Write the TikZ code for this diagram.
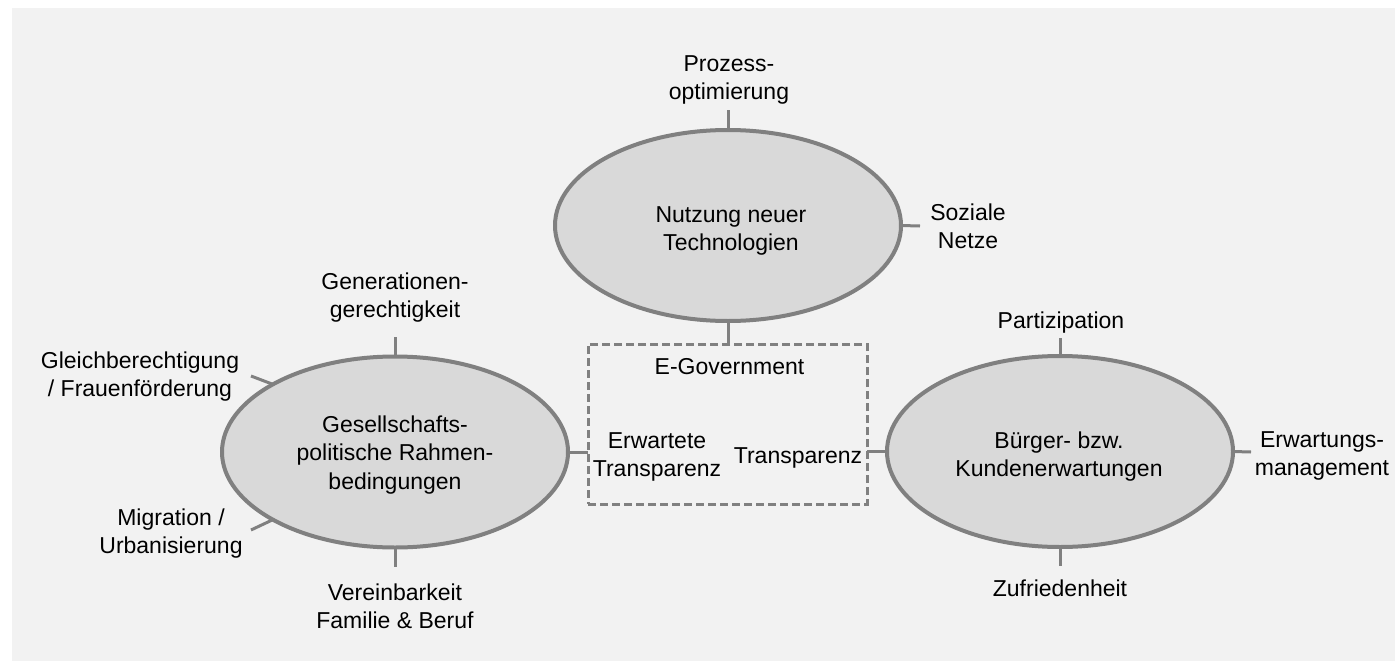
\documentclass[tikz,border=0pt]{standalone}
\usepackage{fontspec}
\setmainfont{Liberation Sans}
\usetikzlibrary{shapes.geometric}
\definecolor{bggray}{HTML}{F2F2F2}
\definecolor{fillgray}{HTML}{D9D9D9}
\definecolor{linegray}{HTML}{808080}
\begin{document}
\begin{tikzpicture}[x=1pt,y=-1pt,
  bubble/.style={ellipse, draw=linegray, fill=fillgray, line width=4pt, minimum width=346pt, minimum height=191pt, inner sep=0pt, outer sep=0pt},
  lbl/.style={font=\fontsize{23}{28.5}\selectfont, align=center, anchor=base, inner sep=0pt, text=black},
  tick/.style={draw=linegray, line width=3pt},
  frame/.style={rectangle, draw=linegray, dash pattern=on 8pt off 4pt, line width=3pt, minimum width=279pt, minimum height=160pt, inner sep=0pt, outer sep=0pt}]
\useasboundingbox (0,0) rectangle (1395,661);
\fill[bggray] (12,8) rectangle (1395,661);

% main bubbles
\node[bubble] (tech) at (728,225.5) {};
\node[bubble] (gov) at (395,452) {};
\node[bubble] (cust) at (1060,451.5) {};
\node[frame] (box) at (727.5,424) {};

% texts inside (anchor base = baseline of last line)
\node[lbl] (techtxt) at (731,250.5) {Nutzung neuer\\Technologien};
\node[lbl] (govtxt) at (395,489) {Gesellschafts-\\politische Rahmen-\\bedingungen};
\node[lbl] (custtxt) at (1059,476.5) {Bürger- bzw.\\Kundenerwartungen};
\node[lbl] (egov) at (729.5,374) {E-Government};
\node[lbl] (erw) at (657,476.5) {Erwartete\\Transparenz};
\node[lbl] (transp) at (798,463) {Transparenz};

% outer labels
\node[lbl] (prozess) at (729,99.5) {Prozess-\\optimierung};
\node[lbl] (sozial) at (968,248.5) {Soziale\\Netze};
\node[lbl] (gener) at (395,317.5) {Generationen-\\gerechtigkeit};
\node[lbl] (gleich) at (140,396.5) {Gleichberechtigung\\/ Frauenförderung};
\node[lbl] (migr) at (171,553.5) {Migration /\\Urbanisierung};
\node[lbl] (verein) at (395,628.5) {Vereinbarkeit\\Familie \& Beruf};
\node[lbl] (partiz) at (1061,328) {Partizipation};
\node[lbl] (zufr) at (1060,596) {Zufriedenheit};
\node[lbl] (erwm) at (1322,475.5) {Erwartungs-\\management};

% tick end points
\coordinate (tN) at (728,110);
\coordinate (tE) at (920,226);
\coordinate (gN) at (395,337);
\coordinate (gS) at (395,567);
\coordinate (gNW) at (251,376);
\coordinate (gSW) at (251,530);
\coordinate (cN) at (1060,338);
\coordinate (cS) at (1060,566);
\coordinate (cE) at (1251,452);

% connectors
\draw[tick] (tech.north) -- (tN);
\draw[tick] (tech.east) -- (tE);
\draw[tick] (tech.south) -- (tech.south |- box.north);
\draw[tick] (gov.north) -- (gN);
\draw[tick] (gov.south) -- (gS);
\draw[tick] (gov.151) -- (gNW);
\draw[tick] (gov.209) -- (gSW);
\draw[tick] (gov.east) -- (gov.east -| box.west);
\draw[tick] (cust.north) -- (cN);
\draw[tick] (cust.south) -- (cS);
\draw[tick] (cust.east) -- (cE);
\draw[tick] (cust.west) -- (cust.west -| box.east);
\end{tikzpicture}
\end{document}
